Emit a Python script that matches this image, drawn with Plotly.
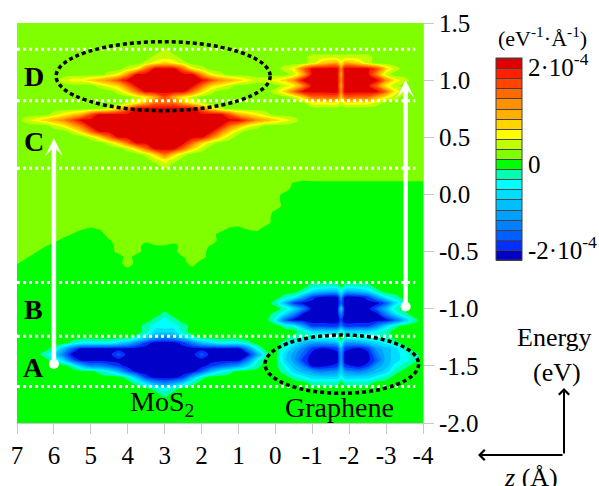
import plotly.graph_objects as go

# ---------------- data ----------------
Z_ANGSTROM = [7.0, 6.75, 6.5, 6.25, 6.0, 5.75, 5.5, 5.25, 5.0, 4.75, 4.5, 4.25,
              4.0, 3.75, 3.5, 3.25, 3.0, 2.75, 2.5, 2.25, 2.0, 1.75, 1.5, 1.25,
              1.0, 0.75, 0.5, 0.25, 0.0, -0.25, -0.5, -0.75, -1.0, -1.25, -1.68, -1.78,
              -1.88, -2.25, -2.5, -2.75, -3.0, -3.25, -3.5, -3.75, -4.0]
ENERGY_EV = [1.5, 1.45, 1.4, 1.35, 1.3, 1.25, 1.2, 1.15, 1.1, 1.05, 1.0, 0.95, 0.9, 0.85,
             0.8, 0.75, 0.7, 0.65, 0.6, 0.55, 0.5, 0.45, 0.4, 0.35, 0.3, 0.25, 0.2, 0.15,
             0.1, 0.05, 0.0, -0.05, -0.1, -0.15, -0.2, -0.25, -0.3, -0.35, -0.4, -0.45,
             -0.5, -0.55, -0.6, -0.65, -0.7, -0.75, -0.8, -0.85, -0.9, -0.95, -1.0, -1.05,
             -1.1, -1.15, -1.2, -1.25, -1.3, -1.35, -1.4, -1.45, -1.5, -1.55, -1.6, -1.65,
             -1.7, -1.75, -1.8, -1.85, -1.9, -1.95, -2.0]

# one character per grid cell (value in units of 1e-4 eV^-1 A^-1)
CELL_VALUES = {
    "0": -1.9, "1": -1.7, "2": -1.5, "3": -1.3, "4": -1.1, "5": -0.9, "6": -0.7,
    "7": -0.5, "8": -0.3, "9": -0.1,
    "a": 0.1, "b": 0.3, "c": 0.5, "d": 0.7, "e": 0.9, "f": 1.1, "g": 1.3,
    "h": 1.5, "i": 1.7, "j": 1.9,
    # values close to zero (edge of the slightly negative region)
    "A": 0.02, "B": 0.04, "C": 0.06, "D": 0.08, "F": 0.12, "G": 0.14, "H": 0.16, "I": 0.18,
    "R": -0.02, "S": -0.04, "T": -0.06, "U": -0.08, "W": -0.12, "X": -0.14, "Y": -0.16,
    "Z": -0.18,
}
BAND_COLORS = ["#0000C8", "#0030FF", "#0060FF", "#0080FF", "#00A0FF", "#00BFFF",
               "#00DDFF", "#00FFFF", "#00FFB0", "#00FF00", "#80FF00", "#C0FF00",
               "#FFFF00", "#FFD500", "#FFB000", "#FF9000", "#FF6A00", "#FF4400",
               "#FF2000", "#E00000"]

# rows from E = 1.5 (top) to E = -2.0 (bottom); columns follow Z_ANGSTROM
DOS_ROWS = [
    "aaaa aaaa aaaa aaaa aaaa aaaa aaaa aaaa aaaa aaaa aaaa a",
    "aaaa aaaa aaaa aaaa aaaa aaaa aaaa aaaa aaaa aaaa aaaa a",
    "aaaa aaaa aaaa aaaa aaaa aaaa aaaa aaaa aaaa aaaa aaaa a",
    "aaaa aaaa aaaa aaaa aaaa aaaa aaaa aaaa aaaa aaaa aaaa a",
    "aaaa aaaa aaaa aaaa aaaa aaaa aaaa aaaa aaaa aaaa aaaa a",
    "aaaa aaaa aaaa aaaa baaa aaaa aaaa aaaa aaaa aaaa aaaa a",
    "aaaa aaaa aaaa aaab bbaa aaaa aaaa aaaa bbbb bbba aaaa a",
    "aaaa aaaa aaaa aabc dcba aaaa aaaa aaaa bdec edba aaaa a",
    "aaaa aaaa aaaa bcgj jjgc baaa aaaa abcg jjjf jjjh dbaa a",
    "aaaa aaaa aabc fjjj jjjj fcba aaaa aabe jjje jjjf baaa a",
    "aaaa abcc defh jjjj jjjj jhfe dcbb cdfj jjjf jjjj fcba a",
    "aaaa aaaa abcd gjjj jjjj gdcb aaaa abcf jjje jjjg cbaa a",
    "aaaa aaaa aaab dgjj jjjg dbaa aaaa bdgj jjjf jjjj gcba a",
    "aaaa aaaa aaaa abce hecb aaaa aaaa aabd gggd ggge cbaa a",
    "aaaa aaaa aaaa bceg ggec baaa aaaa aaaa cccb cccb aaaa a",
    "aaaa aaaa aabd gjjj jjjj gdba aaaa aaaa aaaa aaaa aaaa a",
    "aaaa bcde hjjj jjjj jjjj jjjh edcb aaaa aaaa aaaa aaaa a",
    "abcd efhj jjjj jjjj jjjj jjjj jhfe dcba aaaa aaaa aaaa a",
    "aaaa bceg jjjj jjjj jjjj jjjg ecba aaaa aaaa aaaa aaaa a",
    "aaaa aabd gjjj jjjj jjjj jjgd baaa aaaa aaaa aaaa aaaa a",
    "aaaa aaaa bdgj jjjj jjjj jgdb aaaa aaaa aaaa aaaa aaaa a",
    "aaaa aaaa aabd gjjj jjjg dbaa aaaa aaaa aaaa aaaa aaaa a",
    "aaaa aaaa aaaa bdgj jjgd baaa aaaa aaaa aaaa aaaa aaaa a",
    "aaaa aaaa aaaa aabd gdba aaaa aaaa aaaa aaaa aaaa aaaa a",
    "aaaa aaaa aaaa aaab cbaa aaaa aaaa aaaa aaaa aaaa aaaa a",
    "aaaa aaaa aaaa aaaa baaa aaaa aaaa aaaa aaaa aaaa aaaa a",
    "aaaa aaaa aaaa aaaa aaaa aaaa aaaa aaaa aaaa aaaa aaaa a",
    "aaaa aaaa aaaa aaaa aaaa aaaa aaaa aaIF GGGG GGGG GGGG G",
    "aaaa aaaa aaaa aaaa aaaa aaaa aaaa aaRU TTTT TTTT TTTT T",
    "aaaa aaaa aaaa aaaa aaaa aaaa aaaa aF99 9999 9999 9999 9",
    "aaaa aaaa aaaa aaaa aaaa aaaa aaaa aU99 9999 9999 9999 9",
    "aaaa aaaa aaaa aaaa aaaa aaaa aaaa a999 9999 9999 9999 9",
    "aaaa aaaa aaaa aaaa aaaa aaaa aaaa H999 9999 9999 9999 9",
    "aaaa aaaa aaaa aaaa aaaa aaaa aaaa S999 9999 9999 9999 9",
    "aaaa aaaa aaaa aaaa aaaa aaaa aaaa 9999 9999 9999 9999 9",
    "aaaa aaaa Haaa aaaa aaaa aaaH FaaD 9999 9999 9999 9999 9",
    "aaaa aaIB SBaa aaaa aaaa aaFS UBDW 9999 9999 9999 9999 9",
    "aaaa aFRY 9YIa aaaa aaaa aaU9 9YW9 9999 9999 9999 9999 9",
    "aaaa DU99 99Ra aaDI IFaa aI99 9999 9999 9999 9999 9999 9",
    "aaaB W999 999a aaWR RUaa aR99 9999 9999 9999 9999 9999 9",
    "aaBY 9999 999D aD99 99Ia a999 9999 9999 9999 9999 9999 9",
    "aBY9 9999 999W aW99 99Ra D999 9999 9999 9999 9999 9999 9",
    "BY99 9999 9999 H999 999F W999 9999 9999 9999 9999 9999 9",
    "Y999 9999 9999 S999 999U 9999 9999 9999 9999 9999 9999 9",
    "9999 9999 9999 9999 9999 9999 9999 9999 9999 9999 9999 9",
    "9999 9999 9999 9999 9999 9999 9999 9999 9999 9999 9999 9",
    "9999 9999 9999 9999 9999 9999 9999 9999 8889 8889 9999 9",
    "9999 9999 9999 9999 9999 9999 9999 9998 6557 5568 9999 9",
    "9999 9999 9999 9999 9999 9999 9999 9874 1004 0014 7899 9",
    "9999 9999 9999 9999 9999 9999 9999 8510 0002 0000 2689 9",
    "9999 9999 9999 9999 9999 9999 9999 9863 0006 0002 5899 9",
    "9999 9999 9999 9999 8999 9999 9999 8630 0003 0000 3689 9",
    "9999 9999 9999 9998 7899 9999 9999 7200 0001 0000 0258 9",
    "9999 9999 9999 9987 7789 9999 9999 9874 1113 1113 6899 9",
    "9999 9999 9999 9986 6689 9999 9999 9998 6668 6667 8999 9",
    "9999 9999 9999 9864 3468 9999 9999 9988 8889 8888 8999 9",
    "9999 9987 7776 5310 0013 5677 7899 9875 4458 4456 7899 9",
    "9999 8520 0000 0000 0000 0000 0379 9753 1015 1014 5689 9",
    "9998 6300 0002 0000 0000 2000 0048 9642 0004 0003 5678 9",
    "9999 8620 0000 0000 0000 0000 0379 9641 0004 0002 5678 9",
    "9999 9985 3321 0000 0000 0123 4689 9753 0015 1014 5789 9",
    "9999 9999 9875 2000 0000 2578 9999 9865 4346 4345 6899 9",
    "9999 9999 9999 8510 0015 8999 9999 9987 6667 6667 8999 9",
    "9999 9999 9999 9864 3468 9999 9999 9999 8889 8889 9999 9",
    "9999 9999 9999 9998 7899 9999 9999 9999 9999 9999 9999 9",
    "9999 9999 9999 9999 8999 9999 9999 9999 9999 9999 9999 9",
    "9999 9999 9999 9999 9999 9999 9999 9999 9999 9999 9999 9",
    "9999 9999 9999 9999 9999 9999 9999 9999 9999 9999 9999 9",
    "9999 9999 9999 9999 9999 9999 9999 9999 9999 9999 9999 9",
    "9999 9999 9999 9999 9999 9999 9999 9999 9999 9999 9999 9",
    "9999 9999 9999 9999 9999 9999 9999 9999 9999 9999 9999 9",
]

X_TICKS = [7, 6, 5, 4, 3, 2, 1, 0, -1, -2, -3, -4]
X_TICK_TEXT = ["7", "6", "5", "4", "3", "2", "1", "0", "-1", "-2", "-3", "-4"]
Y_TICKS = [1.5, 1.0, 0.5, 0.0, -0.5, -1.0, -1.5, -2.0]
Y_TICK_TEXT = ["1.5", "1.0", "0.5", "0.0", "-0.5", "-1.0", "-1.5", "-2.0"]
CB_TICKS = [1.82, -0.1, -1.8]
CB_TICK_TEXT = ["2·10<sup>-4</sup>", "0", "-2·10<sup>-4</sup>"]

DIVIDER_ENERGIES = [1.27, 0.82, 0.23, -0.77, -1.24, -1.68]
DIVIDER_Z_START = 7.0
DIVIDER_Z_END = -3.79
REGION_LABELS = ["D", "C", "B", "A"]
REGION_ENERGIES = [1.03, 0.46, -1.01, -1.51]
REGION_Z = 6.54
ELLIPSE_Z0 = [5.94, 0.28]
ELLIPSE_Z1 = [0.14, -3.88]
ELLIPSE_E0 = [0.733, -1.74]
ELLIPSE_E1 = [1.336, -1.23]
TRANSITION_Z = [6.0, -3.53]
TRANSITION_FROM_E = [-1.483, -0.98]
TRANSITION_TO_E = [0.49, 1.0]
MATERIAL_LABELS = ["MoS<sub>2</sub>", "Graphene"]
MATERIAL_Z = [3.06, -1.73]
MATERIAL_E = [-1.83, -1.86]

FONT = "Liberation Serif"

# ---------------- build grid ----------------
assert len(DOS_ROWS) == len(ENERGY_EV)
grid = []
for row in reversed(DOS_ROWS):
    cells = row.replace(" ", "")
    assert len(cells) == len(Z_ANGSTROM), (row, len(cells))
    grid.append([CELL_VALUES[ch] for ch in reversed(cells)])
x_vals = list(reversed(Z_ANGSTROM))
y_vals = list(reversed(ENERGY_EV))

colorscale = []
n = len(BAND_COLORS)
for k, c in enumerate(BAND_COLORS):
    colorscale.append([k / n, c])
    colorscale.append([(k + 1) / n, c])

contour_levels = dict(start=-2.0, end=2.0, size=0.2, coloring="fill")

fig = go.Figure()
fig.add_trace(go.Contour(
    x=x_vals, y=y_vals, z=grid,
    colorscale=colorscale, zmin=-2.0, zmax=2.0,
    autocontour=False,
    contours=dict(**contour_levels, showlines=False),
    line=dict(width=0, smoothing=0.85),
    showscale=False, hoverinfo="skip",
))
# colour-key trace (lies outside the visible axes, only provides the colour bar)
fig.add_trace(go.Contour(
    x=[50, 51], y=[50, 51],
    z=[[CELL_VALUES["0"], CELL_VALUES["j"]], [CELL_VALUES["j"], CELL_VALUES["0"]]],
    colorscale=colorscale, zmin=-2.0, zmax=2.0,
    autocontour=False,
    contours=dict(**contour_levels, showlines=True),
    line=dict(width=1, color="#404040"),
    showscale=True, hoverinfo="skip",
    colorbar=dict(
        x=(496 - 17) / 406, xanchor="left", xpad=0,
        y=(423 - 58) / 400, yanchor="top", ypad=0,
        len=202 / 400, lenmode="fraction", thickness=26,
        outlinewidth=1, outlinecolor="#404040",
        tickvals=CB_TICKS, ticktext=CB_TICK_TEXT, ticks="",
        tickfont=dict(family=FONT, size=25, color="black"),
    ),
))

# transition arrows: start dots
fig.add_trace(go.Scatter(
    x=TRANSITION_Z, y=TRANSITION_FROM_E, mode="markers",
    marker=dict(color="white", size=10, line=dict(width=0)),
    hoverinfo="skip", showlegend=False,
))

shapes = []
for e in DIVIDER_ENERGIES:
    shapes.append(dict(type="line", xref="x", yref="y",
                       x0=DIVIDER_Z_START, x1=DIVIDER_Z_END, y0=e, y1=e,
                       line=dict(color="white", width=3, dash="3px,3px")))
for z0, z1, e0, e1 in zip(ELLIPSE_Z0, ELLIPSE_Z1, ELLIPSE_E0, ELLIPSE_E1):
    shapes.append(dict(type="circle", xref="x", yref="y",
                       x0=z0, x1=z1, y0=e0, y1=e1,
                       line=dict(color="black", width=3.5, dash="4px,3px")))

annotations = []
for lab, e in zip(REGION_LABELS, REGION_ENERGIES):
    annotations.append(dict(x=REGION_Z, y=e, xref="x", yref="y", text="<b>%s</b>" % lab,
                            xanchor="center", yanchor="middle",
                            showarrow=False, font=dict(family=FONT, size=28, color="black")))
for lab, z, e in zip(MATERIAL_LABELS, MATERIAL_Z, MATERIAL_E):
    annotations.append(dict(x=z, y=e, xref="x", yref="y", text=lab,
                            xanchor="center", yanchor="middle",
                            showarrow=False, font=dict(family=FONT, size=28, color="black")))
for z, e0, e1 in zip(TRANSITION_Z, TRANSITION_FROM_E, TRANSITION_TO_E):
    annotations.append(dict(x=z, y=e1, xref="x", yref="y", ax=z, ay=e0,
                            axref="x", ayref="y", text="", showarrow=True,
                            arrowhead=3, arrowsize=0.65, arrowwidth=4.5,
                            arrowcolor="white", standoff=0))


def px(xp):
    return (xp - 17) / 406


def py(yp):
    return (423 - yp) / 400


def paper_text(xp, yp, text, size):
    return dict(x=px(xp), y=py(yp), xref="paper", yref="paper", text=text,
                xanchor="center", yanchor="middle", showarrow=False,
                font=dict(family=FONT, size=size, color="black"))


annotations.append(paper_text(542, 37, "(eV<sup>-1</sup>·Å<sup>-1</sup>)", 22))
annotations.append(paper_text(554, 337, "Energy", 26))
annotations.append(paper_text(557, 372, "(eV)", 26))
annotations.append(paper_text(531, 477, "<i>z</i> (Å)", 26))
# axis direction key
annotations.append(dict(x=px(564), y=py(388), xref="paper", yref="paper", ax=0, ay=67,
                        text="", showarrow=True, arrowhead=4, arrowsize=1.0,
                        arrowwidth=2, arrowcolor="black", standoff=0))
annotations.append(dict(x=px(478), y=py(455), xref="paper", yref="paper", ax=86, ay=0,
                        text="", showarrow=True, arrowhead=4, arrowsize=1.0,
                        arrowwidth=2, arrowcolor="black", standoff=0))

axis_common = dict(ticks="outside", ticklen=10, tickwidth=1, tickcolor="#c8c8c8",
                   showline=True, linecolor="#c8c8c8", linewidth=1,
                   showgrid=False, zeroline=False,
                   tickfont=dict(family=FONT, size=25, color="black"))

fig.update_layout(
    width=599, height=486,
    margin=dict(l=17, r=176, t=23, b=63, autoexpand=False),
    paper_bgcolor="white", plot_bgcolor="white",
    font=dict(family=FONT, color="black"),
    showlegend=False,
    xaxis=dict(range=[7, -4], tickvals=X_TICKS, ticktext=X_TICK_TEXT, **axis_common),
    yaxis=dict(range=[-2.0, 1.5], side="right", tickvals=Y_TICKS, ticktext=Y_TICK_TEXT,
               **axis_common),
    shapes=shapes,
    annotations=annotations,
)

# let the 599x486 figure fill the page exactly (no default body margin)
fig.write_html("out.html",
               config={"displayModeBar": False, "staticPlot": True},
               post_script="document.body.style.margin='0';"
                           "document.documentElement.style.overflow='hidden';")
